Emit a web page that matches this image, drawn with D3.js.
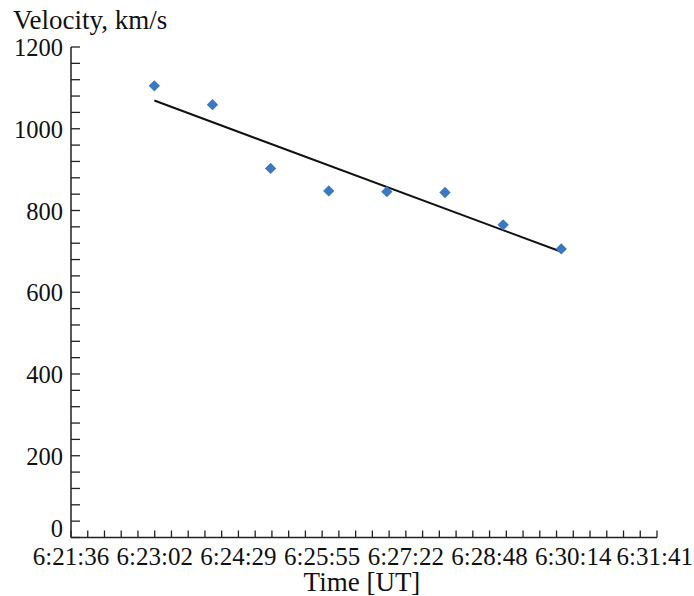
<!DOCTYPE html>
<html>
<head>
<meta charset="utf-8">
<script src="https://cdn.jsdelivr.net/npm/d3@7"></script>
<style>
  body { margin: 0; background: #fff; }
</style>
</head>
<body>
<svg id="chart" width="694" height="596"></svg>
<script>
// observation times (seconds of day, UT) and measured velocity
var times = [22982, 23042, 23102, 23162, 23222, 23282, 23342, 23402];
var velocities = [1105, 1059, 903, 848, 846, 844, 765, 706];

// linear trend, read at the first and last time
var trendTimes = [22982, 23402];
var trendValues = [1069, 699];

// axis ticks: 0.001 day steps from 0.265 to 0.272 day
var xTickDays = [0.265, 0.266, 0.267, 0.268, 0.269, 0.270, 0.271, 0.272];
var yTicks = [0, 200, 400, 600, 800, 1000, 1200];

var serif = "'Liberation Serif', 'Times New Roman', serif";

var svg = d3.select('#chart');
var margin = {top: 47, left: 71, right: 37, bottom: 58.5};
var width = 694 - margin.left - margin.right,
    height = 596 - margin.top - margin.bottom;

var g = svg.append('g')
    .attr('transform', 'translate(' + margin.left + ',' + margin.top + ')');

var day = 86400;
var xScale = d3.scaleLinear()
    .domain([xTickDays[0] * day, xTickDays[xTickDays.length - 1] * day])
    .range([0, width]);
var yScale = d3.scaleLinear().domain([0, 1200]).range([height, 0]);

function fmtTime (s) {
    s = Math.round(s);
    var h = Math.floor(s / 3600),
        m = Math.floor((s % 3600) / 60),
        sec = s % 60;
    return h + ':' + d3.format('02')(m) + ':' + d3.format('02')(sec);
}

// minor ticks (5 per major)
var xMinor = d3.range(0, 36).map(i => xScale.domain()[0] + i * (xScale.domain()[1] - xScale.domain()[0]) / 35);
var yMinor = d3.range(0, 1201, 40);

// X axis
var xAxis = g.append('g')
    .attr('transform', 'translate(0,' + height + ')');
xAxis.append('line')
    .attr('x1', 0).attr('x2', width)
    .attr('stroke', '#222').attr('stroke-width', 1.5);
xAxis.selectAll('.xtick')
    .data(xMinor)
    .enter().append('line')
    .attr('class', 'xtick')
    .attr('x1', d => xScale(d)).attr('x2', d => xScale(d))
    .attr('y1', 0).attr('y2', -7)
    .attr('stroke', '#222').attr('stroke-width', 1.3);
var lastTick = xTickDays.length - 1;
xAxis.selectAll('.xlabel')
    .data(xTickDays)
    .enter().append('text')
    .attr('class', 'xlabel')
    // last label sits flush with the right edge
    .attr('x', (d, i) => i === lastTick ? width + margin.right - 1 : xScale(d * day))
    .attr('y', 27)
    .attr('text-anchor', (d, i) => i === lastTick ? 'end' : 'middle')
    .attr('font-family', serif)
    .attr('font-size', 25)
    .attr('fill', '#111')
    .text(d => fmtTime(d * day));

// Y axis
var yAxis = g.append('g');
yAxis.append('line')
    .attr('y1', 0).attr('y2', height)
    .attr('stroke', '#222').attr('stroke-width', 1.5);
yAxis.selectAll('.ytick')
    .data(yMinor)
    .enter().append('line')
    .attr('class', 'ytick')
    .attr('y1', d => yScale(d)).attr('y2', d => yScale(d))
    .attr('x1', 0).attr('x2', 9)
    .attr('stroke', '#222').attr('stroke-width', 1.3);
yAxis.selectAll('.ylabel')
    .data(yTicks)
    .enter().append('text')
    .attr('class', 'ylabel')
    .attr('x', -8)
    .attr('y', d => yScale(d) + (d === 0 ? -1 : 9))
    .attr('text-anchor', 'end')
    .attr('font-family', serif)
    .attr('font-size', 24.5)
    .attr('fill', '#111')
    .text(d => d);

// Titles
svg.append('text')
    .attr('x', 13).attr('y', 29)
    .attr('font-family', serif)
    .attr('font-size', 27)
    .attr('fill', '#111')
    .text('Velocity, km/s');
svg.append('text')
    .attr('x', 362).attr('y', 591)
    .attr('text-anchor', 'middle')
    .attr('font-family', serif)
    .attr('font-size', 27)
    .attr('fill', '#111')
    .text('Time [UT]');

// Trend line
var trend = d3.line()
    .x(d => xScale(d[0]))
    .y(d => yScale(d[1]));
g.append('path')
    .attr('d', trend(d3.zip(trendTimes, trendValues)))
    .attr('fill', 'none')
    .attr('stroke', '#111')
    .attr('stroke-width', 2);

// Points
g.selectAll('.dot')
    .data(d3.zip(times, velocities))
    .enter().append('path')
    .attr('class', 'dot')
    .attr('d', d3.symbol().type(d3.symbolSquare).size(64))
    .attr('transform', d => 'translate(' + xScale(d[0]) + ',' + yScale(d[1]) + ') rotate(45)')
    .attr('fill', '#3b78c0');
</script>
</body>
</html>
